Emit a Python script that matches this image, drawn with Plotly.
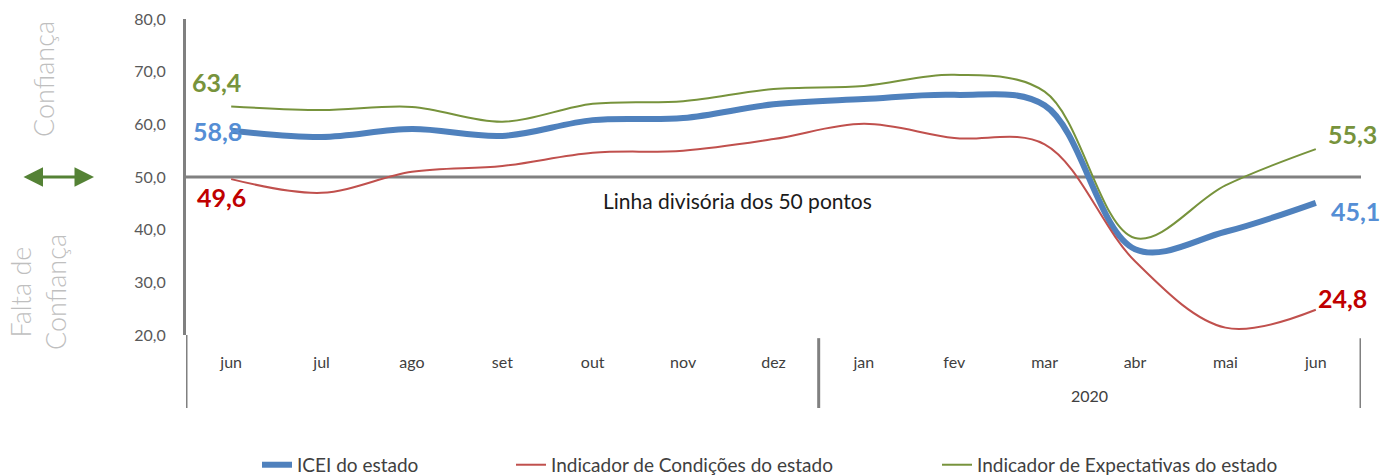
import plotly.graph_objects as go

months = ["jun", "jul", "ago", "set", "out", "nov", "dez", "jan", "fev", "mar", "abr", "mai", "jun"]
icei = [58.8, 57.6, 59.1, 57.8, 60.8, 61.2, 63.8, 64.8, 65.6, 63.6, 36.3, 39.6, 45.1]
condicoes = [49.6, 47.0, 51.0, 52.1, 54.6, 55.0, 57.2, 60.1, 57.4, 56.2, 34.0, 21.4, 24.8]
expectativas = [63.4, 62.7, 63.3, 60.5, 63.9, 64.4, 66.7, 67.3, 69.4, 66.2, 38.4, 48.4, 55.3]
year_label = "2020"
y_ticks = [20, 30, 40, 50, 60, 70, 80]
y_ticktext = ["20,0", "30,0", "40,0", "50,0", "60,0", "70,0", "80,0"]

x = list(range(len(months)))
FONT = "Lato"
BLUE, RED, GREEN = "#4F81BD", "#C0504D", "#77933C"

fig = go.Figure()
fig.add_trace(go.Scatter(x=x, y=icei, mode="lines", name="ICEI do estado",
                         line=dict(color=BLUE, width=6, shape="spline", smoothing=1),
                         legend="legend"))
fig.add_trace(go.Scatter(x=x, y=condicoes, mode="lines", name="Indicador de Condições do estado",
                         line=dict(color=RED, width=2, shape="spline", smoothing=1),
                         legend="legend2"))
fig.add_trace(go.Scatter(x=x, y=expectativas, mode="lines", name="Indicador de Expectativas do estado",
                         line=dict(color=GREEN, width=2, shape="spline", smoothing=1),
                         legend="legend3"))

# 50-point divider line
fig.add_shape(type="line", xref="paper", yref="y", x0=0, x1=1, y0=50, y1=50,
              line=dict(color="#808080", width=3), layer="below")
# axis area separators
for xv in [-0.5, 6.5, 12.5]:
    fig.add_shape(type="line", xref="x", yref="paper", x0=xv, x1=xv,
                  y0=-0.01 if xv != -0.5 else 0, y1=-0.231,
                  line=dict(color="#808080", width=3))

ann = []
ann.append(dict(text="Linha divisória dos 50 pontos", x=5.6, y=50, xref="x", yref="y",
                yshift=-23, showarrow=False, font=dict(family=FONT, size=21, color="#1a1a1a")))
ann.append(dict(text=year_label, x=9.5, y=-0.193, xref="x", yref="paper", yanchor="middle",
                showarrow=False, font=dict(family=FONT, size=16, color="#404040")))
# data labels
lab = dict(showarrow=False, xref="x", yref="y")
LS = 25
ann.append(dict(text="63,4", x=0, y=expectativas[0], xshift=-15, yshift=24,
                font=dict(family=FONT, size=LS, color="#77933C", weight="bold"), **lab))
ann.append(dict(text="58,8", x=0, y=icei[0], xshift=-14, yshift=0,
                font=dict(family=FONT, size=LS, color="#558ED5", weight="bold"), **lab))
ann.append(dict(text="49,6", x=0, y=condicoes[0], xshift=-10, yshift=-18,
                font=dict(family=FONT, size=LS, color="#C00000", weight="bold"), **lab))
ann.append(dict(text="55,3", x=12, y=expectativas[-1], xshift=37, yshift=15,
                font=dict(family=FONT, size=LS, color="#77933C", weight="bold"), **lab))
ann.append(dict(text="45,1", x=12, y=icei[-1], xshift=40, yshift=-8,
                font=dict(family=FONT, size=LS, color="#558ED5", weight="bold"), **lab))
ann.append(dict(text="24,8", x=12, y=condicoes[-1], xshift=27, yshift=12,
                font=dict(family=FONT, size=LS, color="#C00000", weight="bold"), **lab))
# side labels
ann.append(dict(text="Confiança", xref="paper", yref="paper", x=(43 - 186) / 1175, y=(335 - 79) / 316,
                xanchor="center", yanchor="middle",
                textangle=-90, showarrow=False,
                font=dict(family=FONT, size=27, color="#BFBFBF", weight=300)))
ann.append(dict(text="Falta de<br>Confiança", xref="paper", yref="paper", x=(38 - 186) / 1175,
                y=(335 - 292) / 316, xanchor="center", yanchor="middle", textangle=-90, showarrow=False,
                font=dict(family=FONT, size=27, color="#BFBFBF", weight=300)))
# double arrow
ann.append(dict(text="", xref="paper", yref="y", x=(94 - 186) / 1175, y=50,
                ax=-72, ay=0, axref="pixel", ayref="pixel",
                showarrow=True, arrowhead=2, arrowside="end+start", arrowsize=1.3,
                arrowwidth=3, arrowcolor="#548235"))

leg_common = dict(orientation="h", yanchor="middle", xanchor="left", y=-0.411,
                  font=dict(family=FONT, size=19, color="#404040"),
                  bgcolor="rgba(0,0,0,0)", itemwidth=30)

fig.update_layout(
    width=1399, height=475,
    margin=dict(l=186, r=38, t=19, b=140, autoexpand=False),
    paper_bgcolor="white", plot_bgcolor="white",
    showlegend=True,
    legend=dict(x=(257 - 186) / 1175, **leg_common),
    legend2=dict(x=(511 - 186) / 1175, **leg_common),
    legend3=dict(x=(937 - 186) / 1175, **leg_common),
    xaxis=dict(range=[-0.5, 12.5], tickvals=x, ticktext=months, showgrid=False, zeroline=False,
               showline=False, ticks="", ticklabelstandoff=16,
               tickfont=dict(family=FONT, size=16, color="#404040")),
    yaxis=dict(range=[20, 80], tickvals=y_ticks, ticktext=y_ticktext, showgrid=False, zeroline=False,
               showline=True, linecolor="#808080", linewidth=3, ticks="", ticklabelstandoff=14,
               tickfont=dict(family=FONT, size=16, color="#595959")),
    annotations=ann,
)

fig.write_html("out.html", config={"displayModeBar": False},
               post_script="document.body.style.margin='0';document.body.style.overflow='hidden';")
